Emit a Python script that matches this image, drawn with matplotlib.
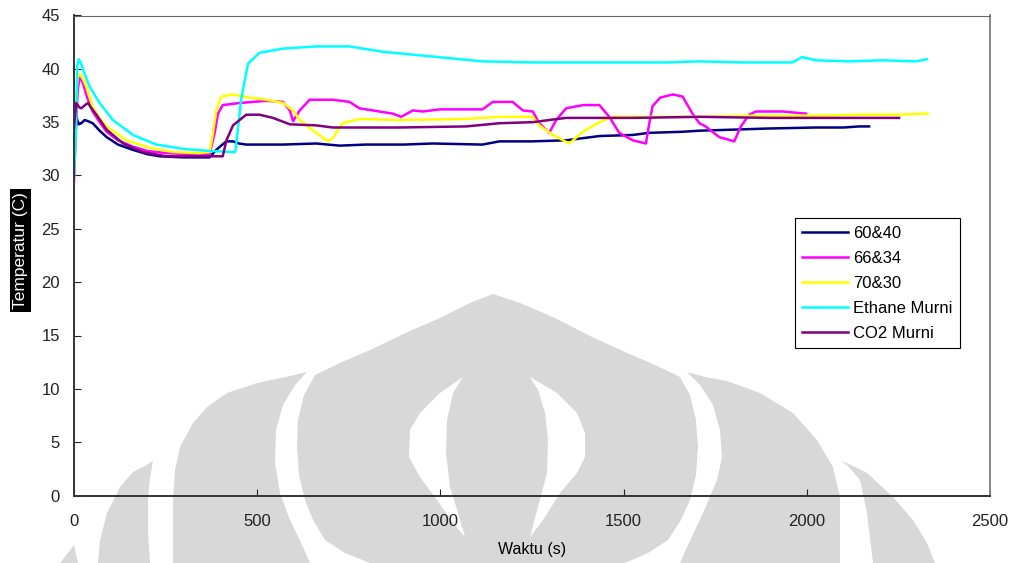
import matplotlib
matplotlib.use("Agg")
import matplotlib.pyplot as plt
from matplotlib.patches import Polygon

plt.rcParams['font.family'] = ['Liberation Sans', 'DejaVu Sans']

# temperature logs (time in s, temperature in C)
t_6040 = [0, 3, 6, 12, 20, 29, 38, 51, 70, 89, 120, 161, 200, 234, 298, 370, 388, 405, 416, 434, 450, 470,
          570, 661, 725, 797, 900, 979, 1115, 1161, 1250, 1343, 1389, 1434, 1525, 1570, 1661, 1707, 1800,
          1889, 2025, 2100, 2143, 2170]
T_6040 = [35.0, 36.1, 35.6, 34.8, 34.9, 35.2, 35.1, 34.9, 34.2, 33.6, 32.9, 32.4, 32.0, 31.8, 31.7, 31.7,
          32.4, 32.9, 33.2, 33.2, 33.0, 32.9, 32.9, 33.0, 32.8, 32.9, 32.9, 33.0, 32.9, 33.2, 33.2, 33.3,
          33.5, 33.7, 33.8, 34.0, 34.1, 34.2, 34.3, 34.4, 34.5, 34.5, 34.6, 34.6]

t_6634 = [0, 5, 10, 16, 25, 35, 51, 70, 89, 120, 161, 200, 252, 310, 370, 384, 393, 406, 452, 525, 570, 589,
          598, 616, 643, 706, 752, 779, 870, 893, 925, 952, 998, 1115, 1143, 1197, 1225, 1252, 1270, 1297,
          1316, 1343, 1389, 1434, 1461, 1488, 1525, 1561, 1568, 1579, 1600, 1634, 1661, 1688, 1707, 1724,
          1761, 1802, 1820, 1843, 1861, 1934, 1998]
T_6634 = [29.5, 34.0, 38.0, 39.3, 38.6, 37.4, 36.0, 35.0, 34.1, 33.3, 32.7, 32.3, 32.1, 32.0, 32.0, 34.0,
          35.8, 36.6, 36.8, 37.0, 36.9, 36.1, 35.1, 36.1, 37.1, 37.1, 36.9, 36.3, 35.8, 35.5, 36.1, 36.0,
          36.2, 36.2, 36.9, 36.9, 36.1, 36.0, 34.9, 34.0, 35.2, 36.3, 36.6, 36.6, 35.5, 34.0, 33.3, 33.0,
          34.5, 36.5, 37.3, 37.6, 37.4, 35.8, 34.9, 34.6, 33.6, 33.2, 34.6, 35.7, 36.0, 36.0, 35.8]

t_7030 = [0, 5, 10, 16, 25, 34, 51, 70, 89, 143, 206, 270, 343, 370, 379, 388, 402, 433, 479, 525, 570,
          598, 616, 661, 693, 706, 733, 779, 888, 1070, 1161, 1252, 1270, 1307, 1352, 1389, 1434, 1470,
          1600, 1707, 1850, 2000, 2150, 2250, 2315, 2330]
T_7030 = [33.0, 37.0, 39.2, 39.5, 39.0, 38.3, 36.4, 35.4, 34.6, 33.3, 32.6, 32.2, 32.1, 32.2, 33.9, 36.1,
          37.4, 37.6, 37.3, 37.1, 36.8, 36.1, 35.2, 34.0, 33.2, 33.5, 34.9, 35.3, 35.2, 35.3, 35.5, 35.5,
          34.7, 33.8, 33.0, 34.1, 35.0, 35.5, 35.5, 35.5, 35.6, 35.6, 35.7, 35.7, 35.8, 35.8]

t_eth = [0, 5, 9, 13, 18, 25, 43, 70, 106, 161, 225, 298, 370, 433, 440, 444, 456, 475, 506, 571, 661, 752,
         843, 934, 1025, 1115, 1252, 1434, 1616, 1707, 1824, 1961, 1987, 2025, 2115, 2206, 2297, 2328]
T_eth = [30.0, 34.0, 40.3, 40.9, 40.6, 39.9, 38.3, 36.8, 35.2, 33.8, 32.9, 32.5, 32.3, 32.2, 32.2, 33.3,
         37.1, 40.5, 41.5, 41.9, 42.1, 42.1, 41.6, 41.3, 41.0, 40.7, 40.6, 40.6, 40.6, 40.7, 40.6, 40.6,
         41.1, 40.8, 40.7, 40.8, 40.7, 40.9]

t_co2 = [0, 6, 14, 20, 30, 38, 48, 61, 89, 134, 188, 252, 343, 406, 416, 434, 470, 506, 543, 589, 661, 706,
         888, 1070, 1161, 1252, 1297, 1343, 1525, 1707, 1900, 2100, 2252]
T_co2 = [34.5, 36.8, 36.4, 36.3, 36.6, 36.8, 36.3, 35.7, 34.3, 33.0, 32.2, 31.8, 31.8, 31.8, 33.3, 34.7,
         35.7, 35.7, 35.4, 34.8, 34.7, 34.5, 34.5, 34.6, 34.9, 35.0, 35.2, 35.4, 35.4, 35.5, 35.4, 35.4,
         35.4]

series = [
    ('60&40', t_6040, T_6040, '#000080'),
    ('66&34', t_6634, T_6634, '#ff00ff'),
    ('70&30', t_7030, T_7030, '#ffff00'),
    ('Ethane Murni', t_eth, T_eth, '#00ffff'),
    ('CO2 Murni', t_co2, T_co2, '#800080'),
]

W, H = 1009, 563
fig = plt.figure(figsize=(W / 100, H / 100), dpi=100)


# background logo, outlined in pixel coords (y from top)
def blob(pts, color):
    xy = [(x / W, 1 - y / H) for x, y in pts]
    fig.patches.append(Polygon(xy, closed=True, transform=fig.transFigure,
                               facecolor=color, edgecolor='none', zorder=-2))


grey = '#d8d8d8'
# middle flame
blob([(493, 294), (470, 303), (440, 318), (410, 331), (370, 350), (340, 363), (315, 375), (304, 395),
      (298, 420), (297, 447), (299, 475), (305, 500), (313, 520), (325, 540), (345, 553), (370, 563),
      (625, 563), (648, 553), (668, 540), (681, 520), (690, 500), (696, 475), (698, 447), (696, 420),
      (690, 395), (680, 377), (655, 365), (625, 352), (590, 336), (555, 318), (520, 303)], grey)
# wings
blob([(307, 372), (290, 376), (257, 383), (227, 393), (207, 407), (193, 423), (180, 447), (175, 470),
      (173, 500), (173, 563), (310, 563), (303, 547), (290, 520), (280, 493), (275, 463), (276, 430),
      (283, 405), (295, 385)], grey)
blob([(687, 372), (705, 377), (727, 381), (760, 393), (793, 413), (817, 440), (833, 467), (840, 497),
      (840, 563), (680, 563), (687, 547), (703, 513), (717, 480), (722, 457), (720, 430), (713, 405),
      (700, 385)], grey)
# outer petals
blob([(153, 461), (145, 466), (133, 472), (120, 487), (107, 513), (100, 540), (98, 563), (150, 563),
      (148, 530), (148, 500), (150, 478)], grey)
blob([(840, 460), (853, 466), (867, 473), (880, 485), (893, 497), (913, 520), (927, 543), (935, 563),
      (873, 563), (867, 513), (860, 480), (848, 466)], grey)
blob([(74, 545), (60, 563), (78, 563)], grey)
# inner lens outline
blob([(463, 377), (440, 393), (420, 413), (410, 430), (409, 457), (420, 477), (437, 500), (453, 523),
      (465, 537), (458, 513), (450, 487), (446, 453), (447, 420), (453, 393)], 'white')
blob([(530, 377), (557, 393), (577, 413), (585, 433), (585, 457), (577, 473), (560, 493), (543, 520),
      (530, 537), (538, 507), (547, 473), (548, 440), (545, 413), (538, 390)], 'white')

ax = fig.add_axes([74 / W, 1 - 495.5 / H, 916 / W, 480 / H])
ax.set_facecolor('none')

for name, t, T, c in series:
    ax.plot(t, T, color=c, lw=1.8, label=name)

ax.set_xlim(0, 2500)
ax.set_ylim(0, 45)
ax.set_xticks(range(0, 2501, 500))
ax.set_yticks(range(0, 46, 5))
ax.tick_params(direction='in', length=5, width=0.8, labelsize=12, colors='#222222')
ax.tick_params(axis='x', pad=13)
ax.tick_params(axis='y', pad=10)
ax.spines['left'].set_color('#333333')
ax.spines['bottom'].set_color('#333333')
ax.spines['left'].set_linewidth(1.4)
ax.spines['bottom'].set_linewidth(1.4)
ax.spines['top'].set_color('#666666')
ax.spines['right'].set_color('#888888')
ax.spines['right'].set_linewidth(1.4)

ax.set_xlabel('Waktu (s)', fontsize=11.5)
ax.xaxis.set_label_coords(0.5, -0.097)
ax.set_ylabel('Temperatur (C)', fontsize=12.5, color='white',
              bbox=dict(facecolor='black', edgecolor='none', pad=2))
ax.yaxis.set_label_coords(-0.050, 0.51)

leg = ax.legend(loc='upper left', bbox_to_anchor=(0.787, 0.578), fontsize=12, frameon=True,
                fancybox=False, edgecolor='black', framealpha=1, handlelength=2.75,
                handletextpad=0.3, labelspacing=0.6, borderpad=0.45, borderaxespad=0)
leg.get_frame().set_linewidth(0.8)

fig.savefig('out.png', dpi=100)
